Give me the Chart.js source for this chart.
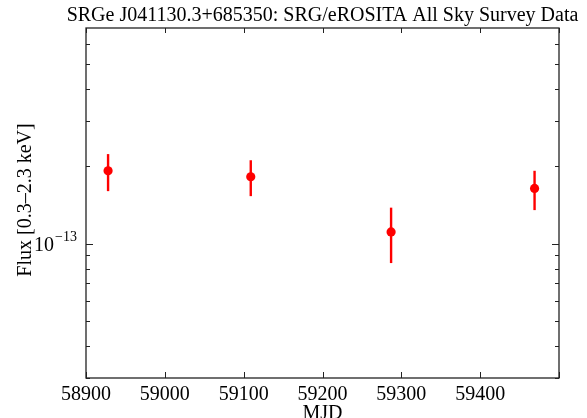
<!DOCTYPE html>
<html>
<head>
<meta charset="utf-8">
<script src="https://cdn.jsdelivr.net/npm/chart.js@4"></script>
<style>
  body { margin: 0; background: #fff; }
</style>
</head>
<body>
<canvas id="lc" width="587" height="418"></canvas>
<script>
// eROSITA light curve values
const mjd = [58928, 59109, 59287, 59469];
const flux = [1.92e-13, 1.82e-13, 1.11e-13, 1.64e-13];
const fluxLow = [1.60e-13, 1.53e-13, 0.84e-13, 1.35e-13];
const fluxHigh = [2.23e-13, 2.11e-13, 1.38e-13, 1.92e-13];

const xTicks = [58900, 59000, 59100, 59200, 59300, 59400, 59500];
const xTickLabels = ['58900', '59000', '59100', '59200', '59300', '59400', ''];
const yTicks = [3e-14, 4e-14, 5e-14, 6e-14, 7e-14, 8e-14, 9e-14, 1e-13, 2e-13, 3e-13, 4e-13, 5e-13, 6e-13];
const yMajor = [1e-13];

const serif = "'Liberation Serif', 'Times New Roman', serif";

// frame, inward ticks, labels and error bars
const frame = {
    id: 'frame',
    beforeDatasetsDraw(chart) {
        const ctx = chart.ctx;
        const xs = chart.scales.x, ys = chart.scales.y;
        ctx.save();
        ctx.strokeStyle = '#ff0000';
        ctx.lineWidth = 2.4;
        for (let i = 0; i < mjd.length; i++) {
            const px = xs.getPixelForValue(mjd[i]);
            ctx.beginPath();
            ctx.moveTo(px, ys.getPixelForValue(fluxLow[i]));
            ctx.lineTo(px, ys.getPixelForValue(fluxHigh[i]));
            ctx.stroke();
        }
        ctx.restore();
    },
    afterDraw(chart) {
        const ctx = chart.ctx;
        const a = chart.chartArea;
        const xs = chart.scales.x, ys = chart.scales.y;
        ctx.save();
        ctx.strokeStyle = '#222';
        ctx.lineWidth = 1.3;
        ctx.strokeRect(a.left, a.top, a.right - a.left, a.bottom - a.top);

        ctx.lineWidth = 1;
        ctx.beginPath();
        xTicks.forEach(v => {
            const px = Math.round(xs.getPixelForValue(v)) + 0.5;
            ctx.moveTo(px, a.bottom); ctx.lineTo(px, a.bottom - 6);
            ctx.moveTo(px, a.top); ctx.lineTo(px, a.top + 5);
        });
        yTicks.forEach(v => {
            const py = Math.round(ys.getPixelForValue(v)) + 0.5;
            const len = yMajor.includes(v) ? 7 : 4;
            ctx.moveTo(a.left, py); ctx.lineTo(a.left + len, py);
            ctx.moveTo(a.right, py); ctx.lineTo(a.right - len, py);
        });
        ctx.stroke();

        // y tick label 10^-13
        ctx.fillStyle = '#000';
        ctx.textBaseline = 'alphabetic';
        const yl = ys.getPixelForValue(1e-13);
        ctx.font = '20px ' + serif;
        ctx.textAlign = 'left';
        ctx.fillText('10', 34, yl + 7);
        ctx.font = '14px ' + serif;
        ctx.fillText('\u221213', 55, yl - 3);

        // title
        ctx.font = '20px ' + serif;
        ctx.textAlign = 'center';
        ctx.fillText('SRGe J041130.3+685350: SRG/eROSITA All Sky Survey Data', (a.left + a.right) / 2, 21);

        // x axis title
        ctx.font = '20px ' + serif;
        ctx.fillText('MJD', (a.left + a.right) / 2, 419);

        // y axis title
        ctx.translate(31, 200);
        ctx.rotate(-Math.PI / 2);
        ctx.fillText('Flux [0.3\u20132.3 keV]', 0, 0);
        ctx.restore();
    }
};

new Chart(document.getElementById('lc'), {
    type: 'scatter',
    data: {
        datasets: [{
            data: mjd.map((m, i) => ({ x: m, y: flux[i] })),
            backgroundColor: '#ff0000',
            borderColor: '#ff0000',
            pointRadius: 4.6,
            pointHoverRadius: 4.6,
            borderWidth: 0
        }]
    },
    options: {
        responsive: false,
        animation: false,
        events: [],
        layout: { padding: { top: 28, right: 28, left: 0, bottom: 0 } },
        plugins: { legend: { display: false }, tooltip: { enabled: false } },
        scales: {
            x: {
                type: 'linear',
                min: 58900,
                max: 59500,
                afterBuildTicks: s => { s.ticks = xTicks.map(v => ({ value: v })); },
                afterFit: s => { s.height = 40; },
                grid: { display: false },
                border: { display: false },
                ticks: {
                    color: '#000',
                    font: { family: serif, size: 20 },
                    padding: -3,
                    maxRotation: 0,
                    autoSkip: false,
                    callback: (v, i) => xTickLabels[i]
                }
            },
            y: {
                type: 'logarithmic',
                min: 3e-14,
                max: 6.9e-13,
                afterBuildTicks: s => { s.ticks = yTicks.map(v => ({ value: v })); },
                afterFit: s => { s.width = 86; },
                grid: { display: false },
                border: { display: false },
                ticks: { display: false }
            }
        }
    },
    plugins: [frame]
});
</script>
</body>
</html>
